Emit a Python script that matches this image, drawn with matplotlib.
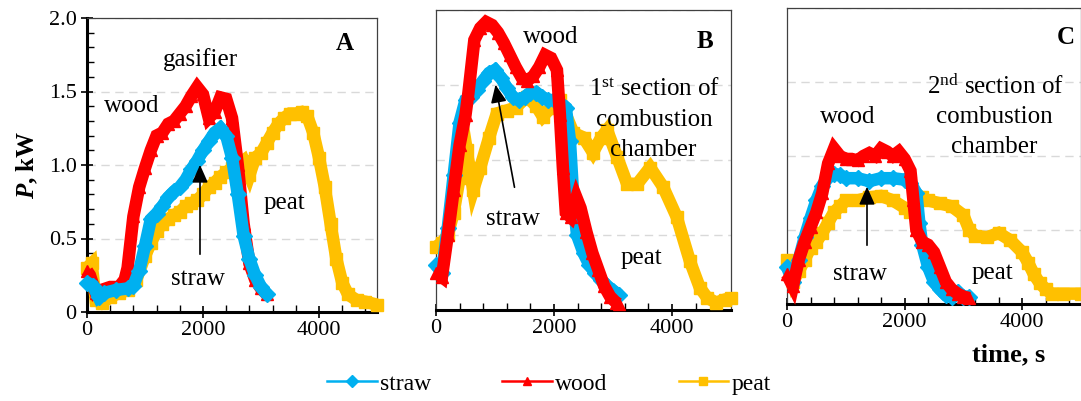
import matplotlib
matplotlib.use("Agg")
import matplotlib.pyplot as plt
from matplotlib.ticker import MultipleLocator, FixedLocator
from matplotlib.lines import Line2D

plt.rcParams['font.family'] = ['Liberation Serif', 'DejaVu Serif']
plt.rcParams['mathtext.fontset'] = 'custom'
plt.rcParams['mathtext.rm'] = 'Liberation Serif'
plt.rcParams['mathtext.it'] = 'Liberation Serif:italic:bold'

# ---------------- data (time s, power kW) ----------------
# Panel A - gasifier
A_wood_t = [0, 50, 150, 250, 400, 550, 650, 700, 800, 900, 1000, 1100, 1200, 1300, 1400, 1500, 1600, 1700,
            1800, 1900, 2000, 2100, 2200, 2300, 2400, 2500, 2600, 2700, 2800, 2900, 3000, 3100]
A_wood_p = [0.28, 0.25, 0.13, 0.15, 0.17, 0.17, 0.22, 0.30, 0.65, 0.85, 0.98, 1.10, 1.20, 1.22, 1.28, 1.30, 1.35, 1.40,
            1.47, 1.53, 1.48, 1.32, 1.36, 1.46, 1.45, 1.32, 1.00, 0.60, 0.33, 0.22, 0.16, 0.12]
A_straw_t = [0, 100, 200, 300, 500, 700, 800, 900, 1000, 1100, 1200, 1300, 1400, 1500, 1600, 1700, 1800, 1900,
             2000, 2100, 2200, 2300, 2400, 2500, 2600, 2700, 2800, 2900, 3000, 3100]
A_straw_p = [0.20, 0.18, 0.10, 0.13, 0.15, 0.16, 0.18, 0.28, 0.45, 0.63, 0.67, 0.72, 0.78, 0.82, 0.85, 0.90, 0.97, 1.03,
             1.10, 1.16, 1.22, 1.25, 1.20, 1.05, 0.80, 0.52, 0.36, 0.25, 0.17, 0.12]
A_peat_t = [0, 80, 150, 250, 400, 550, 700, 850, 1000, 1100, 1200, 1300, 1400, 1500, 1600, 1700, 1800, 1900, 2000,
            2100, 2200, 2300, 2400, 2500, 2600, 2700, 2800, 2900, 3000, 3100, 3200, 3300, 3400, 3500, 3600, 3700,
            3800, 3900, 4000, 4100, 4200, 4300, 4400, 4500, 4650, 4800, 5000]
A_peat_p = [0.30, 0.33, 0.08, 0.06, 0.10, 0.13, 0.15, 0.22, 0.38, 0.47, 0.55, 0.60, 0.63, 0.66, 0.68, 0.72, 0.74, 0.76,
            0.80, 0.85, 0.88, 0.92, 0.95, 0.98, 1.00, 1.03, 0.93, 1.05, 1.08, 1.15, 1.22, 1.28, 1.32, 1.35, 1.35, 1.36,
            1.33, 1.22, 1.05, 0.85, 0.60, 0.36, 0.20, 0.12, 0.08, 0.07, 0.05]

# Panel B - 1st section of combustion chamber
B_wood_t = [0, 100, 200, 300, 400, 500, 550, 650, 750, 850, 950, 1050, 1150, 1250, 1350, 1450, 1550, 1650, 1750,
            1850, 1950, 2050, 2100, 2150, 2200, 2280, 2380, 2450, 2550, 2650, 2750, 2850, 2950, 3050, 3100]
B_wood_p = [0.25, 0.22, 0.50, 0.80, 1.10, 1.30, 1.45, 1.80, 1.88, 1.92, 1.90, 1.85, 1.78, 1.70, 1.62, 1.55, 1.53, 1.56,
            1.62, 1.70, 1.68, 1.60, 1.30, 0.95, 0.65, 0.62, 0.75, 0.68, 0.52, 0.38, 0.27, 0.16, 0.09, 0.05, 0.04]
B_straw_t = [0, 100, 200, 300, 400, 500, 600, 700, 800, 900, 1000, 1100, 1200, 1300, 1400, 1500, 1600, 1700, 1800,
             1900, 2000, 2100, 2200, 2270, 2330, 2390, 2500, 2600, 2700, 2800, 2900, 3000, 3100]
B_straw_p = [0.30, 0.25, 0.55, 0.90, 1.25, 1.40, 1.42, 1.47, 1.53, 1.58, 1.60, 1.55, 1.48, 1.42, 1.40, 1.42, 1.45, 1.45,
             1.42, 1.40, 1.40, 1.38, 1.35, 1.13, 0.73, 0.50, 0.38, 0.30, 0.25, 0.20, 0.16, 0.13, 0.10]
B_peat_t = [0, 100, 200, 300, 400, 520, 630, 750, 900, 1030, 1200, 1350, 1540, 1700, 1810, 1950, 2100, 2330, 2500,
            2660, 2800, 2900, 3070, 3240, 3410, 3630, 3850, 4080, 4300, 4470, 4600, 4750, 4900, 5000]
B_peat_p = [0.42, 0.45, 0.50, 0.65, 0.88, 1.07, 0.80, 0.95, 1.15, 1.31, 1.33, 1.35, 1.42, 1.36, 1.29, 1.35, 1.40, 1.18,
            1.15, 1.05, 1.15, 1.20, 1.02, 0.84, 0.84, 0.95, 0.82, 0.62, 0.33, 0.15, 0.08, 0.05, 0.07, 0.08]

# Panel C - 2nd section of combustion chamber
C_wood_t = [0, 100, 200, 300, 400, 500, 600, 700, 800, 900, 1000, 1100, 1200, 1300, 1400, 1500, 1600, 1700,
            1800, 1900, 2000, 2100, 2150, 2200, 2300, 2400, 2500, 2600, 2700, 2800, 2900, 3000, 3100]
C_wood_p = [0.20, 0.12, 0.30, 0.42, 0.52, 0.62, 0.75, 0.95, 1.05, 1.00, 0.98, 0.98, 0.97, 1.00, 1.02, 1.00, 1.05, 1.03,
            1.00, 1.03, 0.98, 0.90, 0.70, 0.50, 0.42, 0.40, 0.35, 0.25, 0.15, 0.10, 0.07, 0.05, 0.04]
C_straw_t = [0, 100, 200, 300, 400, 500, 600, 700, 800, 900, 1000, 1200, 1400, 1600, 1800, 2000, 2100, 2200, 2250,
             2300, 2400, 2500, 2600, 2700, 2800, 2900, 3000, 3100]
C_straw_p = [0.25, 0.15, 0.30, 0.45, 0.58, 0.70, 0.80, 0.86, 0.88, 0.87, 0.85, 0.85, 0.83, 0.85, 0.85, 0.84, 0.82, 0.75,
             0.55, 0.40, 0.25, 0.15, 0.10, 0.06, 0.05, 0.08, 0.05, 0.05]
C_peat_t = [0, 100, 200, 300, 400, 500, 600, 700, 800, 900, 1000, 1200, 1400, 1600, 1800, 2000, 2100, 2200, 2300,
            2400, 2600, 2800, 3000, 3100, 3200, 3400, 3600, 3800, 4000, 4100, 4200, 4300, 4400, 4500, 4700, 5000]
C_peat_p = [0.30, 0.15, 0.22, 0.30, 0.38, 0.42, 0.48, 0.55, 0.62, 0.66, 0.70, 0.70, 0.72, 0.73, 0.70, 0.65, 0.62, 0.68,
            0.72, 0.70, 0.68, 0.66, 0.60, 0.50, 0.46, 0.45, 0.48, 0.43, 0.35, 0.28, 0.20, 0.14, 0.10, 0.07, 0.07, 0.07]

series_names = ['straw', 'wood', 'peat']
colors = {'straw': '#00B0F0', 'wood': '#FF0000', 'peat': '#FFC000'}
markers = {'straw': 'D', 'wood': '^', 'peat': 's'}

fig = plt.figure(figsize=(10.81, 4.01), dpi=100)
W, H = 1081, 401


def ax_at(l, r, b, t):
    return fig.add_axes([l / W, 1 - b / H, (r - l) / W, (b - t) / H])


axA = ax_at(87, 377, 312, 18)
axB = ax_at(436, 731, 310, 10)
axC = ax_at(787, 1081, 304, 8)

panels = [
    (axA, {'peat': (A_peat_t, A_peat_p), 'wood': (A_wood_t, A_wood_p), 'straw': (A_straw_t, A_straw_p)},
     ['peat', 'wood', 'straw']),
    (axB, {'peat': (B_peat_t, B_peat_p), 'straw': (B_straw_t, B_straw_p), 'wood': (B_wood_t, B_wood_p)},
     ['peat', 'straw', 'wood']),
    (axC, {'peat': (C_peat_t, C_peat_p), 'straw': (C_straw_t, C_straw_p), 'wood': (C_wood_t, C_wood_p)},
     ['peat', 'straw', 'wood']),
]

for ax, data, order in panels:
    for name in order:
        t, p = data[name]
        ax.plot(t, p, color=colors[name], lw=9, solid_joinstyle='miter', solid_capstyle='butt',
                marker=markers[name], ms=8, mec=colors[name], mfc=colors[name], zorder=3, clip_on=False)
    ax.set_xlim(0, 5000)
    ax.set_ylim(0, 2.0)
    ax.yaxis.set_major_locator(MultipleLocator(0.5))
    ax.grid(axis='y', color='#d9d9d9', ls=(0, (6, 4)), lw=1.0)
    ax.set_axisbelow(True)
    ax.xaxis.set_major_locator(FixedLocator([0, 2000, 4000]))
    ax.xaxis.set_minor_locator(MultipleLocator(400))
    ax.tick_params(axis='x', which='major', direction='inout', length=9, width=1.2, labelsize=16, pad=2)
    ax.tick_params(axis='x', which='minor', direction='in', length=5, width=1.0)
    for s in ['top', 'right', 'left']:
        ax.spines[s].set_color('#404040')
        ax.spines[s].set_linewidth(0.9)
    ax.spines['bottom'].set_color('black')
    ax.spines['bottom'].set_linewidth(2.2)

# Panel A y axis
axA.spines['left'].set_color('black')
axA.spines['left'].set_linewidth(2.2)
axA.yaxis.set_minor_locator(MultipleLocator(0.1))
axA.set_yticks([0, 0.5, 1.0, 1.5, 2.0])
axA.set_yticklabels(['0', '0.5', '1.0', '1.5', '2.0'])
axA.tick_params(axis='y', which='major', direction='inout', length=9, width=1.2, labelsize=16, pad=3)
axA.tick_params(axis='y', which='minor', direction='in', length=5, width=1.0)
for ax in (axB, axC):
    ax.tick_params(axis='y', which='both', left=False, labelleft=False)

axA.set_ylabel('$\\mathit{P}$, kW', fontsize=18, fontweight='bold', labelpad=6)
fig.text(1009 / W, 1 - 355 / H, 'time, s', fontsize=19, fontweight='bold', ha='center', va='center')


# annotations (figure pixel coords)
def ftext(x, y, s, **kw):
    kw.setdefault('fontsize', 18)
    fig.text(x / W, 1 - y / H, s, ha='center', va='center', **kw)


ftext(345, 44, 'A', fontweight='bold')
ftext(705, 42, 'B', fontweight='bold')
ftext(1066, 38, 'C', fontweight='bold')

ftext(200, 60, 'gasifier')
ftext(132, 106, 'wood')
ftext(198, 279, 'straw')
ftext(284, 203, 'peat')

ftext(551, 37, 'wood')
ftext(655, 90, '1$^{\\mathrm{st}}$ section of')
ftext(654, 120, 'combustion')
ftext(653, 150, 'chamber')
ftext(513, 219, 'straw')
ftext(641, 258, 'peat')

ftext(848, 117, 'wood')
ftext(995, 87, '2$^{\\mathrm{nd}}$ section of')
ftext(994, 117, 'combustion')
ftext(994, 147, 'chamber')
ftext(860, 274, 'straw')
ftext(992, 273, 'peat')

arrow_kw = dict(arrowstyle='-|>,head_length=0.9,head_width=0.4', color='black', lw=1.2)
for (x0, y0, x1, y1) in [(200, 257, 200, 162), (515, 190, 495, 82), (867, 248, 867, 184)]:
    fig.add_artist(matplotlib.patches.FancyArrowPatch((x0 / W, 1 - y0 / H), (x1 / W, 1 - y1 / H),
                                                      transform=fig.transFigure, zorder=10,
                                                      mutation_scale=12, **arrow_kw))

handles = [Line2D([0], [0], color=colors[n], lw=1.8, marker=markers[n], ms=6, mfc=colors[n], mec=colors[n])
           for n in series_names]
fig.legend(handles, series_names, loc='center', bbox_to_anchor=(549 / W, 1 - 384 / H), ncol=3,
           frameon=False, fontsize=17, handlelength=2.1, handletextpad=0.15, columnspacing=3.0)

fig.savefig('out.png', dpi=100)
